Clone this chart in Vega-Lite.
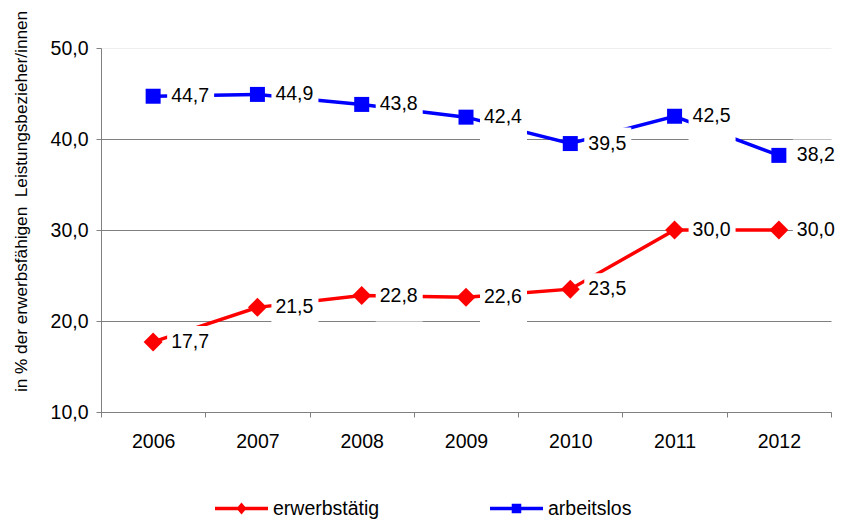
{
  "$schema": "https://vega.github.io/schema/vega-lite/v6.json",
  "width": 730,
  "height": 364,
  "autosize": {"type": "none"},
  "padding": {"left": 101, "top": 48, "right": 10, "bottom": 107},
  "background": "white",
  "config": {
    "font": "Liberation Sans",
    "view": {"stroke": null},
    "locale": {"number": {"decimal": ",", "thousands": ".", "grouping": [3], "currency": ["", " €"]}}
  },
  "data": {
    "values": [
      {"year": "2006", "series": "erwerbstätig", "value": 17.7},
      {"year": "2007", "series": "erwerbstätig", "value": 21.5},
      {"year": "2008", "series": "erwerbstätig", "value": 22.8},
      {"year": "2009", "series": "erwerbstätig", "value": 22.6},
      {"year": "2010", "series": "erwerbstätig", "value": 23.5},
      {"year": "2011", "series": "erwerbstätig", "value": 30.0},
      {"year": "2012", "series": "erwerbstätig", "value": 30.0},
      {"year": "2006", "series": "arbeitslos", "value": 44.7},
      {"year": "2007", "series": "arbeitslos", "value": 44.9},
      {"year": "2008", "series": "arbeitslos", "value": 43.8},
      {"year": "2009", "series": "arbeitslos", "value": 42.4},
      {"year": "2010", "series": "arbeitslos", "value": 39.5},
      {"year": "2011", "series": "arbeitslos", "value": 42.5},
      {"year": "2012", "series": "arbeitslos", "value": 38.2}
    ]
  },
  "encoding": {
    "x": {
      "field": "year", "type": "ordinal",
      "scale": {"type": "band", "paddingInner": 0, "paddingOuter": 0},
      "axis": {
        "title": null, "labelAngle": 0, "labelFontSize": 19.5, "labelColor": "#000000",
        "labelPadding": 15, "tickBand": "extent", "tickSize": 5,
        "tickColor": "#808080", "domainColor": "#808080", "grid": false
      }
    },
    "y": {
      "field": "value", "type": "quantitative",
      "scale": {"domain": [10, 50], "nice": false, "zero": false},
      "axis": {
        "title": "in % der erwerbsfähigen\u00a0 Leistungsbezieher/innen",
        "titleFontSize": 17.2, "titleFontWeight": "normal", "titleColor": "#000000",
        "titleX": -80, "titleY": 153, "titleBaseline": "middle", "titleAlign": "center", "titleAngle": -90,
        "values": [10, 20, 30, 40, 50], "format": ".1f",
        "labelFontSize": 19.5, "labelColor": "#000000", "labelPadding": 8,
        "tickSize": 5, "tickColor": "#808080", "domainColor": "#808080",
        "grid": true,
        "gridColor": {"condition": {"test": "datum.value === 50", "value": "#eeeeee"}, "value": "#808080"},
        "gridWidth": 1
      }
    }
  },
  "layer": [
    {
      "mark": {"type": "line", "strokeWidth": 3.5},
      "encoding": {
        "color": {
          "field": "series", "type": "nominal",
          "scale": {"domain": ["erwerbstätig", "arbeitslos"], "range": ["#ff0000", "#0000ff"]},
          "legend": {
            "title": null, "orient": "none", "legendX": 114, "legendY": 434,
            "direction": "horizontal", "symbolSize": 2809, "labelFontSize": 19.5,
            "labelColor": "#000000", "labelOffset": 5, "columnPadding": 110, "padding": 0,
            "encode": {
              "symbols": {
                "update": {
                  "shape": {"signal": "datum.value === 'arbeitslos' ? 'M-1,-0.066H1V0.066H-1Z M-0.18,-0.18H0.18V0.18H-0.18Z' : 'M-1,-0.066H1V0.066H-1Z M0,-0.23L0.19,0L0,0.23L-0.19,0Z'"},
                  "fill": {"signal": "datum.value === 'arbeitslos' ? '#0000ff' : '#ff0000'"},
                  "fillOpacity": {"value": 1},
                  "strokeWidth": {"value": 0},
                  "stroke": {"value": "transparent"}
                }
              }
            }
          }
        }
      }
    },
    {
      "transform": [{"filter": "datum.series === 'erwerbstätig'"}],
      "mark": {"type": "point", "filled": true, "opacity": 1, "shape": "diamond", "size": 360, "color": "#ff0000"}
    },
    {
      "transform": [{"filter": "datum.series === 'arbeitslos'"}],
      "mark": {"type": "point", "filled": true, "opacity": 1, "shape": "square", "size": 225, "color": "#0000ff"}
    },
    {
      "mark": {"type": "point", "filled": true, "shape": "M14,-16H61V26H14Z", "size": 4, "color": "#ffffff", "opacity": 1, "strokeWidth": 0}
    },
    {
      "mark": {"type": "text", "align": "left", "baseline": "middle", "dx": 18, "fontSize": 19.5, "color": "#000000"},
      "encoding": {
        "text": {"field": "value", "type": "quantitative", "format": ".1f"}
      }
    }
  ]
}
